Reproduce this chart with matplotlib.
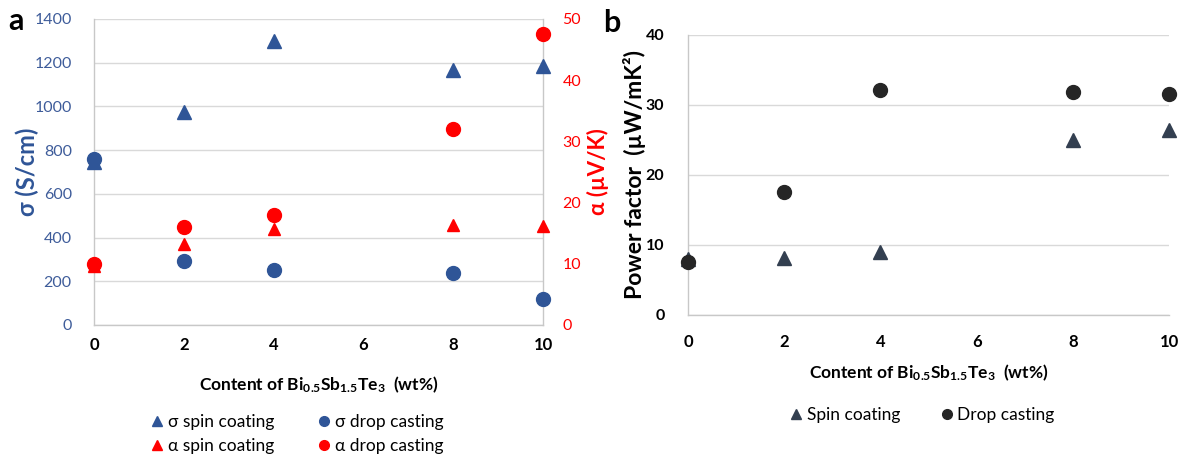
import matplotlib
matplotlib.use("Agg")
import matplotlib.pyplot as plt
from matplotlib.lines import Line2D

plt.rcParams['font.family'] = ['Lato', 'DejaVu Sans']
plt.rcParams['mathtext.fontset'] = 'custom'
plt.rcParams['mathtext.rm'] = 'Lato'
plt.rcParams['mathtext.bf'] = 'Lato:bold'
plt.rcParams['mathtext.default'] = 'bf'

# ---- data ----
content = [0, 2, 4, 8, 10]
xticks = [0, 2, 4, 6, 8, 10]

sigma_spin = [745, 975, 1300, 1168, 1184]
sigma_drop = [760, 295, 251, 240, 119]
alpha_spin = [9.7, 13.2, 15.7, 16.3, 16.2]
alpha_drop = [10.0, 16.0, 18.0, 32.0, 47.5]

pf_spin = [8.0, 8.2, 9.0, 25.0, 26.4]
pf_drop = [7.5, 17.5, 32.1, 31.8, 31.6]

BLUE = '#2F5597'
BLUE_TXT = '#3E5C9A'
RED = '#FF0000'
DARK_TRI = '#333F50'
DARK_CIR = '#262626'
GRID = '#D9D9D9'
SPINE = '#C8C8C8'

W, H = 1182, 457
fig = plt.figure(figsize=(W / 100, H / 100), dpi=100)

xlabel = r"Content of Bi$_{0.5}$Sb$_{1.5}$Te$_{3}$  (wt%)"

def style_axis(ax, left=True, right=False):
    ax.spines['top'].set_visible(False)
    ax.spines['right'].set_visible(right)
    ax.spines['left'].set_visible(left)
    for s in ['bottom', 'left', 'right']:
        ax.spines[s].set_color(SPINE)
        ax.spines[s].set_linewidth(1.0)
    ax.yaxis.grid(True, color=GRID, linewidth=1.0)
    ax.set_axisbelow(True)
    ax.tick_params(axis='both', length=0)
    ax.set_xticks(xticks)
    ax.set_xticklabels([str(t) for t in xticks], fontweight='bold', fontsize=12)

# ---- panel a ----
AL, AR, AT, AB = 94, 543, 19, 325
axa = fig.add_axes([AL / W, 1 - AB / H, (AR - AL) / W, (AB - AT) / H])
style_axis(axa, left=True, right=True)
axa.set_xlim(0, 10)
axa.set_ylim(0, 1400)
axa.set_yticks(range(0, 1401, 200))
axa.tick_params(axis='y', colors=BLUE_TXT, labelsize=11.5, pad=16)
axa.tick_params(axis='x', pad=9)
for lab in axa.get_yticklabels():
    lab.set_color(BLUE_TXT)
axa.set_ylabel("σ (S/cm)", color=BLUE, fontsize=17, fontweight='bold')
axa.yaxis.set_label_coords((39 - AL) / (AR - AL), 0.5)
axa.set_xlabel(xlabel, fontsize=12.5, fontweight='bold', labelpad=15)

axa2 = axa.twinx()
for s in ['top', 'right', 'left', 'bottom']:
    axa2.spines[s].set_visible(False)
axa2.set_ylim(0, 50)
axa2.set_yticks(range(0, 51, 10))
axa2.tick_params(axis='y', length=0, colors=RED, labelsize=11.5, pad=14)
axa2.set_ylabel("α (µV/K)", color=RED, fontsize=16, fontweight='bold')
axa2.yaxis.set_label_coords((587 - AL) / (AR - AL), 0.5)

axa.plot(content, sigma_spin, linestyle='none', marker='^', markersize=10, color=BLUE, clip_on=False, zorder=3)
axa.plot(content, sigma_drop, linestyle='none', marker='o', markersize=10, color=BLUE, clip_on=False, zorder=4)
axa2.plot(content, alpha_spin, linestyle='none', marker='^', markersize=9, color=RED, clip_on=False, zorder=3)
axa2.plot(content, alpha_drop, linestyle='none', marker='o', markersize=10, color=RED, clip_on=False, zorder=4)

h_a = [
    Line2D([], [], linestyle='none', marker='^', color=BLUE, markersize=7),
    Line2D([], [], linestyle='none', marker='^', color=RED, markersize=7),
    Line2D([], [], linestyle='none', marker='o', color=BLUE, markersize=7),
    Line2D([], [], linestyle='none', marker='o', color=RED, markersize=7),
]
l_a = ["σ spin coating", "α spin coating", "σ drop casting", "α drop casting"]
fig.legend(h_a, l_a, loc='upper left', bbox_to_anchor=(133 / W, 1 - 398 / H),
           bbox_transform=fig.transFigure, ncol=2, frameon=False, fontsize=12.5,
           handletextpad=0.1, handlelength=1.0, columnspacing=2.4, labelspacing=0.5)

fig.text(8 / W, 1 - 21 / H, "a", fontsize=22, fontweight='bold', va='center', ha='left')

# ---- panel b ----
BL, BR, BT, BB = 688, 1169, 34.7, 315
axb = fig.add_axes([BL / W, 1 - BB / H, (BR - BL) / W, (BB - BT) / H])
style_axis(axb, left=True, right=False)
axb.set_xlim(0, 10)
axb.set_ylim(0, 40)
axb.set_yticks(range(0, 41, 10))
axb.tick_params(axis='y', labelsize=11.5, pad=17)
axb.tick_params(axis='x', pad=14)
for lab in axb.get_yticklabels():
    lab.set_fontweight('bold')
axb.set_ylabel("Power factor  (µW/mK²)", fontsize=16.5, fontweight='bold')
axb.yaxis.set_label_coords((646 - BL) / (BR - BL), 0.5)
axb.set_xlabel(xlabel, fontsize=12.5, fontweight='bold', labelpad=9)

axb.plot(content, pf_spin, linestyle='none', marker='^', markersize=10, color=DARK_TRI, clip_on=False, zorder=3)
axb.plot(content, pf_drop, linestyle='none', marker='o', markersize=10, color=DARK_CIR, clip_on=False, zorder=4)

h_b = [
    Line2D([], [], linestyle='none', marker='^', color=DARK_TRI, markersize=7),
    Line2D([], [], linestyle='none', marker='o', color=DARK_CIR, markersize=7),
]
fig.legend(h_b, ["Spin coating", "Drop casting"], loc='upper left',
           bbox_to_anchor=(772 / W, 1 - 391 / H), bbox_transform=fig.transFigure,
           ncol=2, frameon=False, fontsize=12.5, handletextpad=0.1, handlelength=1.0,
           columnspacing=2.2)

fig.text(603 / W, 1 - 23 / H, "b", fontsize=22, fontweight='bold', va='center', ha='left')

fig.savefig("out.png", dpi=100)
